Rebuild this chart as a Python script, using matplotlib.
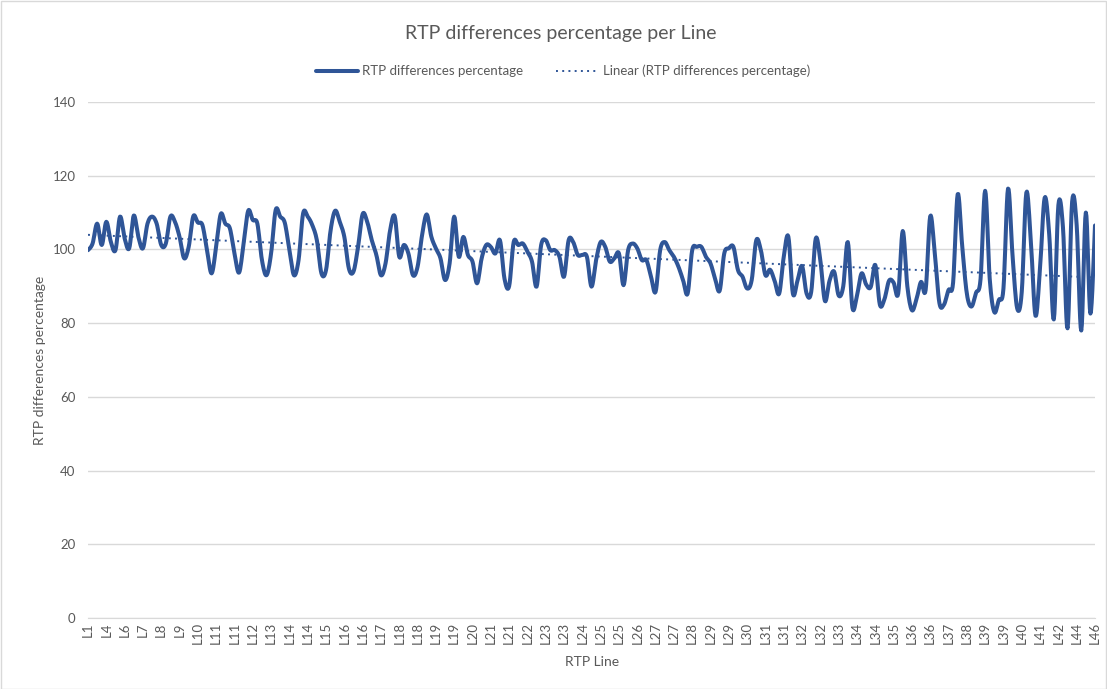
import numpy as np
import matplotlib.pyplot as plt
from matplotlib.patches import Rectangle

# x tick labels shown by the chart (one label every 4 points)
tick_labels = ['L1', 'L4', 'L6', 'L7', 'L8', 'L9', 'L10', 'L11', 'L11', 'L12', 'L13', 'L14', 'L14', 'L15',
               'L16', 'L16', 'L17', 'L18', 'L18', 'L19', 'L19', 'L20', 'L21', 'L21', 'L22', 'L23', 'L23', 'L24',
               'L25', 'L25', 'L26', 'L27', 'L27', 'L28', 'L29', 'L29', 'L30', 'L31', 'L31', 'L32', 'L32',
               'L33', 'L34', 'L34', 'L35', 'L36', 'L36', 'L37', 'L38', 'L39', 'L39', 'L40', 'L41', 'L42', 'L44', 'L46']

rtp_diff = [
    99.8, 101.6, 107, 101.2, 107.5, 102, 99.8, 108.9, 103, 100.3,
    109.2, 103.4, 100.3, 107, 108.9, 107, 101.2, 101.6, 108.9, 107.5,
    103.4, 97.6, 100.7, 109, 107.3, 106.6, 99.8, 93.5, 100.7, 109.6,
    107, 105.7, 98.9, 93.7, 101.6, 110.5, 108, 107, 97.1, 93,
    98.9, 110.7, 108.9, 107.2, 99.8, 93, 97.1, 109.8, 108.9, 106.6,
    102.5, 93.5, 94.4, 105.2, 110.5, 107.5, 103.4, 94.8, 94, 100.7,
    109.6, 107.5, 102.5, 98.5, 93, 96.2, 105.2, 109, 98, 101.2,
    98.9, 93, 95.3, 104,
    109.5, 103.5, 100.3, 97.6, 91.7, 96.2, 108.9, 98, 103.4, 98.5,
    96.7, 90.8, 97.6, 101.2, 100.7, 98.9, 102.5, 92, 90, 102,
    101.2, 101.6, 99.4, 96.7, 89.9, 101.2, 102.5, 99.8, 99.8, 98,
    92.6, 102.5, 102, 98.5, 98.5, 98, 89.9, 97.1, 102, 100.7,
    96.7, 97.6, 98.9, 90.3, 99.8, 101.6, 100.3, 97.1, 97.1, 92.6,
    88.5, 99.8, 102, 99.8, 98, 95.3, 91.7, 88, 99.8, 100.7,
    100.7, 98, 96.2, 92.1, 88.8, 98.9, 100.3, 100.7, 94.4, 92.6,
    89.4, 91.7, 102.5, 99.8,
    93, 94.5, 91.5, 88, 98, 103.5, 88, 91.5, 95.5, 88,
    88.5, 103, 97, 86, 91.5, 94, 87.5, 90, 102, 84.2,
    87.5, 93.5, 90.5, 89.8, 95.8, 85, 86.5, 91.5, 91, 88,
    105, 90, 83.5, 86.5, 91.2, 89, 109, 98.9, 85.5, 85,
    89, 91, 115, 100.7, 88, 84.5, 88.2, 92, 115.9, 92,
    83, 86.3, 89.4, 116.5, 98, 84, 88.5, 115.4, 102, 82,
    95, 114, 104, 81, 112, 106, 78.6, 112.9, 106.5, 78,
    110, 82.6, 106.5,
]

blue = '#2F5597'
grey_text = '#595959'
grid_c = '#D9D9D9'


def smooth_line(x, y, steps=8):
    # Catmull-Rom style bezier through the points, like a spreadsheet "smoothed line"
    x = np.asarray(x, float)
    y = np.asarray(y, float)
    px = np.concatenate([[x[0]], x, [x[-1]]])
    py = np.concatenate([[y[0]], y, [y[-1]]])
    t = np.linspace(0, 1, steps, endpoint=False)[:, None]
    p0x, p0y = px[1:-2], py[1:-2]
    p1x, p1y = px[2:-1], py[2:-1]
    c0x = p0x + (px[2:-1] - px[:-3]) / 6
    c0y = p0y + (py[2:-1] - py[:-3]) / 6
    c1x = p1x - (px[3:] - px[1:-2]) / 6
    c1y = p1y - (py[3:] - py[1:-2]) / 6
    bx = (1 - t) ** 3 * p0x + 3 * (1 - t) ** 2 * t * c0x + 3 * (1 - t) * t ** 2 * c1x + t ** 3 * p1x
    by = (1 - t) ** 3 * p0y + 3 * (1 - t) ** 2 * t * c0y + 3 * (1 - t) * t ** 2 * c1y + t ** 3 * p1y
    sx = np.append(bx.T.ravel(), x[-1])
    sy = np.append(by.T.ravel(), y[-1])
    return sx, sy


plt.rcParams['font.family'] = ['Lato', 'DejaVu Sans']

W, H = 1107, 689
fig = plt.figure(figsize=(W / 100, H / 100), dpi=100)
ax = fig.add_axes([88 / W, 1 - 618 / H, (1095 - 88) / W, (618 - 102) / H])

x = np.arange(len(rtp_diff))
sx, sy = smooth_line(x, rtp_diff)
ax.plot(sx, sy, color=blue, lw=2.9, solid_joinstyle='round', solid_capstyle='round',
        label='RTP differences percentage')
coef = np.polyfit(x, rtp_diff, 1)
ax.plot(x, np.polyval(coef, x), color=blue, lw=1.4, linestyle=(0, (1, 2.2)),
        label='Linear (RTP differences percentage)')

ax.set_xlim(0, len(x) - 1)
ax.set_ylim(0, 140)
ax.set_yticks(range(0, 141, 20))
ax.yaxis.grid(True, color=grid_c, lw=1)
ax.set_axisbelow(True)
for s in ['top', 'right', 'left']:
    ax.spines[s].set_visible(False)
ax.spines['bottom'].set_color(grid_c)
ax.set_xticks(x[::4])
ax.set_xticklabels(tick_labels, rotation=90)
ax.tick_params(axis='y', length=0, colors=grey_text, labelsize=9.5, pad=9)
ax.tick_params(axis='x', length=0, colors=grey_text, labelsize=9.5, pad=3)

fig.text(561 / W, 1 - 33 / H, 'RTP differences percentage per Line', ha='center', va='center',
         fontsize=14, color=grey_text)
fig.text(40 / W, 1 - 360 / H, 'RTP differences percentage', ha='center', va='center',
         rotation=90, fontsize=10, color=grey_text)
fig.text(592 / W, 1 - 662 / H, 'RTP Line', ha='center', va='center', fontsize=10, color=grey_text)

fig.legend(loc='center', bbox_to_anchor=(563 / W, 1 - 71 / H), ncol=2, frameon=False,
           fontsize=9.5, labelcolor=grey_text, handlelength=3.2, columnspacing=2.5, handletextpad=0.3)

fig.patches.append(Rectangle((0.5 / W, 0.5 / H), 1 - 1.5 / W, 1 - 1.5 / H, transform=fig.transFigure,
                             fill=False, edgecolor=grid_c, lw=1))

fig.savefig('out.png', dpi=100)
